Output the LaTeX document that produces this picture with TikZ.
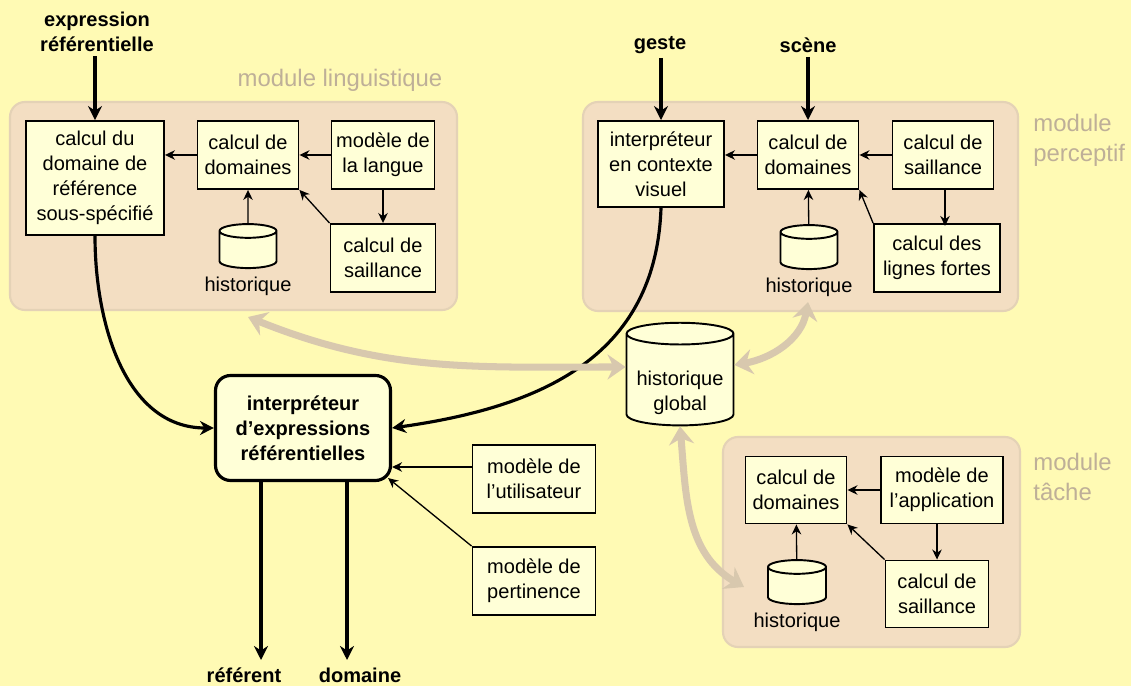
\documentclass[tikz,border=0pt]{standalone}
\usepackage{fontspec}
\setmainfont{Liberation Sans}
\usetikzlibrary{positioning, arrows.meta, shapes.geometric, calc}

\definecolor{fond}{RGB}{255,250,180}
\definecolor{modfill}{RGB}{243,222,194}
\definecolor{modline}{RGB}{228,210,182}
\definecolor{boxfill}{RGB}{255,255,215}
\definecolor{modtext}{RGB}{190,175,152}
\definecolor{liengris}{RGB}{216,200,174}

\newcommand\boitefont{\fontsize{11.4}{14.2}\selectfont}
\newcommand\modfont{\fontsize{13.6}{17.2}\selectfont}
\newcommand\vide{\rule{1.1cm}{0pt}} % empty content for the small bases

\tikzset{%
  box/.style={draw, fill=boxfill, line width=1.1pt, align=center,
    inner sep=0pt, font=\boitefont, minimum width=2.02cm, minimum height=1.36cm},
  mainbox/.style={box, rounded corners=0.3cm, line width=1.8pt,
    font=\boitefont\bfseries, minimum width=3.5cm, minimum height=2.1cm},
  base/.style={cylinder, shape border rotate=90, aspect=0.25, draw,
    fill=boxfill, line width=1.1pt, inner sep=0pt, font=\boitefont,
    minimum width=1.14cm, minimum height=0.88cm},
  baselabel/.style={font=\boitefont, inner sep=0pt},
  module/.style={fill=modfill, draw=modline, line width=1.2pt, rounded corners=0.3cm},
  modlabel/.style={text=modtext, font=\modfont, align=left, inner sep=0pt},
  entree/.style={font=\boitefont\bfseries, align=center, inner sep=0pt},
  fleche/.style={-{Stealth[length=0.2cm,width=0.19cm]}, line width=0.75pt},
  grosse/.style={-{Stealth[length=0.28cm,width=0.28cm]}, line width=1.8pt},
  lien/.style={{Stealth[length=0.36cm,width=0.5cm,inset=0.12cm]}-{Stealth[length=0.36cm,width=0.5cm,inset=0.12cm]},
    line width=4pt, draw=liengris}
}

\begin{document}
\begin{tikzpicture}[x=0.02cm, y=0.02cm]
  \fill[fond] (0,0) rectangle (1131,686);
  \useasboundingbox (0,0) rectangle (1131,686);

  % modules
  \draw[module] (10,376) rectangle (457,584);
  \draw[module] (583,375) rectangle (1018,584);
  \draw[module] (723,39) rectangle (1020,249);
  \node[modlabel] (labling) at (340,606) {module linguistique};
  \node[modlabel, anchor=west] (labperc) at (1033,546) {module\\perceptif};
  \node[modlabel, anchor=west] (labtache) at (1033,209) {module\\tâche};

  % module linguistique
  \node[entree] (expr) at (97,654) {expression\\référentielle};
  \node[box, minimum width=2.76cm, minimum height=2.28cm] (cdr) at (95,508)
    {calcul du\\domaine de\\référence\\sous-spécifié};
  \node[box] (cdd1) at (248,531) {calcul de\\domaines};
  \node[box, minimum width=2.06cm] (langue) at (383,531) {modèle de\\la langue};
  \node[box, minimum width=2.1cm] (sail1) at (383,428) {calcul de\\saillance};
  \node[base] (cyl1) at (248,436) {\vide};
  \node[baselabel, below=0.16cm of cyl1] (hist1) {historique};

  % module perceptif
  \node[entree] (geste) at (660,641) {geste};
  \node[entree] (scene) at (808,641) {scène};
  \node[box, minimum width=2.52cm, minimum height=1.72cm] (ictx) at (661,522)
    {interpréteur\\en contexte\\visuel};
  \node[box] (cdd2) at (808,531) {calcul de\\domaines};
  \node[box] (sail2) at (943,531) {calcul de\\saillance};
  \node[box, minimum width=2.52cm] (lignes) at (937,428) {calcul des\\lignes fortes};
  \node[base] (cyl2) at (809,435) {\vide};
  \node[baselabel, below=0.16cm of cyl2] (hist2) {historique};

  % historique global
  \node[base, minimum width=2.14cm, minimum height=1.88cm, align=center] (global) at (680,306)
    {\rule{0pt}{0.8cm}historique\\global};

  % module tache
  \node[box, minimum height=1.34cm] (cdd3) at (796,196) {calcul de\\domaines};
  \node[box, minimum width=2.44cm, minimum height=1.34cm] (app) at (942,196)
    {modèle de\\l’application};
  \node[box, minimum width=2.06cm, minimum height=1.34cm] (sail3) at (937,92)
    {calcul de\\saillance};
  \node[base, minimum width=1.16cm] (cyl3) at (797,100) {\vide};
  \node[baselabel, below=0.16cm of cyl3] (hist3) {historique};

  % interpreteur
  \node[mainbox] (main) at (303,258) {interpréteur\\d’expressions\\référentielles};
  \node[box, minimum width=2.46cm] (util) at (534,207) {modèle de\\l’utilisateur};
  \node[box, minimum width=2.46cm] (pert) at (534,105) {modèle de\\pertinence};
  \node[entree] (referent) at (244,11) {référent};
  \node[entree] (domaine) at (360,11) {domaine};
  \coordinate (refout) at (261,26);
  \coordinate (domout) at (347,26);
  \coordinate (lingport) at (248,369);
  \coordinate (percport) at (808,384);
  \coordinate (tacheport) at (744,99);

  % fleches fines
  \draw[fleche] (cdd1.west) -- (cdd1.west -| cdr.east);
  \draw[fleche] (langue) -- (cdd1);
  \draw[fleche] (langue) -- (sail1);
  \draw[fleche] (sail1.north west) -- (cdd1.south east);
  \draw[fleche] (cyl1) -- (cdd1);
  \draw[fleche] (cdd2.west) -- (cdd2.west -| ictx.east);
  \draw[fleche] (sail2) -- (cdd2);
  \draw[fleche] (sail2.south -| lignes.north) ++(8,0) -- ++(0,-36);
  \draw[fleche] (lignes.north west) -- (cdd2.south east);
  \draw[fleche] (cyl2) -- (cdd2);
  \draw[fleche] (app) -- (cdd3);
  \draw[fleche] (sail3.north |- app.south) -- (sail3.north);
  \draw[fleche] (sail3.north west) -- (cdd3.south east);
  \draw[fleche] (cyl3) -- (cdd3);
  \draw[fleche] ($(util.west)+(0,12)$) -- ($(util.west -| main.east)+(0,12)$);
  \draw[fleche] (pert.north west) -- ($(main.south east)+(-4,4)$);

  % fleches epaisses
  \draw[grosse] (cdr.north |- expr.south) ++(0,-4) -- (cdr.north);
  \draw[grosse] (ictx.north |- geste.south) ++(0,-4) -- (ictx.north);
  \draw[grosse] (cdd2.north |- scene.south) ++(0,-4) -- (cdd2.north);
  \draw[grosse] (cdr.south) to[out=-90, in=180] (main.west);
  \draw[grosse] (ictx.south) to[out=-92, in=8, looseness=1.1] (main.east);
  \draw[grosse] (main.south -| refout) -- (refout);
  \draw[grosse] (main.south -| domout) -- (domout);

  % liens avec l'historique global
  \draw[lien] (lingport) to[out=-22, in=180] ($(global.west)+(0,13)$);
  \draw[lien] (percport) to[out=-100, in=10] ($(global.east)+(0,15)$);
  \draw[lien] (global.bottom) to[out=-85, in=150] (tacheport);
\end{tikzpicture}
\end{document}
